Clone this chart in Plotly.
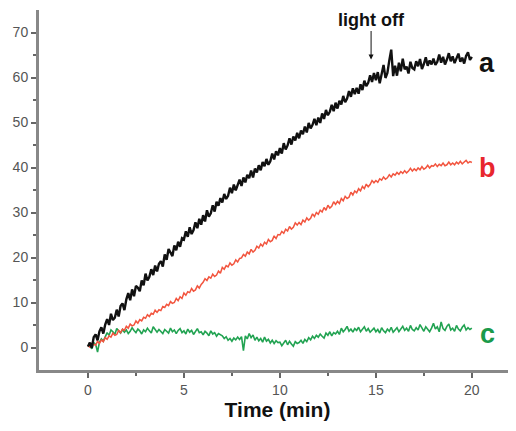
import plotly.graph_objects as go

# Sampling: t = 0, 0.1, ..., 20 min
t_start = 0.0
t_step = 0.1

series_a = [
    0.2, 1.1, -0.1, 2.3, 2.9, 1.6, 3.6, 4.5, 3.1, 5.1,
    6.3, 5.0, 7.5, 6.1, 6.6, 8.4, 6.9, 9.2, 9.8, 8.3,
    10.7, 12.1, 10.5, 12.9, 11.4, 13.7, 13.3, 12.5, 14.9, 13.8,
    16.4, 14.9, 15.7, 17.4, 16.1, 18.2, 16.9, 18.6, 19.2, 18.0,
    20.7, 19.5, 21.9, 21.0, 20.3, 22.7, 21.6, 23.5, 22.4, 24.3,
    24.0, 25.8, 24.6, 26.7, 25.2, 26.1, 27.8, 26.5, 28.6, 27.3,
    29.4, 28.0, 30.5, 29.1, 29.8, 31.6, 30.2, 32.4, 31.5, 33.2,
    32.2, 34.1, 33.0, 33.7, 35.5, 34.3, 36.2, 34.9, 36.0, 37.3,
    35.9, 37.8, 36.7, 38.4, 37.6, 39.3, 37.8, 39.8, 38.9, 40.5,
    39.4, 41.2, 40.3, 41.9, 40.6, 41.4, 43.1, 41.8, 43.6, 42.7,
    44.3, 43.1, 45.4, 44.0, 44.9, 46.5, 45.1, 46.9, 46.0, 47.7,
    46.5, 48.2, 47.4, 49.1, 47.8, 49.9, 48.7, 49.5, 50.8, 49.4,
    51.1, 49.9, 52.0, 50.8, 52.8, 51.6, 52.4, 53.9, 52.5, 54.4,
    53.1, 54.8, 54.0, 55.9, 54.5, 55.3, 57.0, 55.7, 57.6, 56.3,
    57.7, 56.4, 58.5, 57.2, 59.3, 58.1, 58.8, 60.5, 59.0, 61.0,
    59.4, 61.2, 58.7, 60.5, 62.8, 59.9, 61.0, 63.8, 66.2, 60.3,
    62.6, 60.4, 63.3, 61.4, 64.2, 61.8, 62.4, 60.9, 63.5, 62.1,
    61.8, 63.6, 62.5, 64.1, 61.9, 63.0, 64.5, 62.6, 63.8, 62.9,
    64.2, 62.8, 63.5, 65.1, 63.3, 64.6, 62.9, 64.0, 65.4, 63.6,
    64.7, 63.2, 64.1, 65.3, 63.5, 64.4, 63.1, 64.8, 65.6, 63.9,
    64.6,
]

series_b = [
    0.4, 0.1, 0.9, 0.6, 0.5, 1.4, 0.9, 1.7, 1.3, 2.2,
    1.8, 2.6, 2.3, 3.2, 2.7, 2.9, 3.8, 3.3, 4.1, 3.8,
    4.7, 4.3, 5.2, 4.8, 5.0, 5.9, 5.4, 6.2, 5.9, 6.7,
    6.5, 7.3, 6.9, 7.6, 7.4, 8.3, 7.8, 8.4, 8.2, 9.1,
    8.9, 9.6, 9.3, 10.2, 9.8, 10.0, 10.9, 10.4, 11.3, 10.9,
    12.1, 11.6, 12.4, 12.2, 13.1, 12.5, 12.8, 13.7, 13.2, 14.0,
    14.5, 15.3, 14.9, 15.7, 15.4, 16.3, 15.8, 16.1, 17.0, 16.5,
    17.8, 17.4, 18.2, 17.9, 18.8, 18.3, 18.6, 19.5, 19.0, 19.8,
    19.9, 20.7, 20.3, 21.2, 20.8, 21.8, 21.2, 21.6, 22.5, 22.1,
    23.0, 22.5, 23.4, 23.0, 24.0, 23.5, 23.8, 24.8, 24.2, 25.1,
    25.0, 25.8, 25.4, 26.3, 25.9, 26.9, 26.3, 26.7, 27.7, 27.2,
    27.8, 27.3, 28.3, 27.9, 28.8, 28.3, 28.7, 29.7, 29.1, 30.0,
    29.6, 30.5, 30.1, 31.1, 30.5, 31.6, 31.0, 31.4, 32.4, 31.8,
    32.5, 32.0, 33.1, 32.6, 33.6, 33.1, 33.4, 34.5, 33.9, 34.8,
    34.4, 35.3, 34.8, 35.8, 35.3, 36.3, 35.7, 36.2, 37.1, 36.6,
    37.1, 36.7, 37.5, 37.2, 37.9, 37.4, 37.7, 38.4, 37.9, 38.6,
    38.3, 38.9, 38.5, 39.1, 38.7, 39.3, 38.8, 39.2, 39.8, 39.2,
    39.7, 39.3, 39.9, 39.5, 40.2, 39.6, 39.9, 40.5, 39.9, 40.4,
    40.3, 40.8, 40.2, 40.7, 40.4, 41.0, 40.4, 40.6, 41.2, 40.6,
    41.0, 40.6, 41.2, 40.8, 41.4, 40.8, 41.1, 41.6, 41.0, 41.3,
    41.1,
]

series_c = [
    0.2, 0.6, -0.3, 1.1, 0.7, -1.0, 1.2, 1.9, 1.4, 2.5,
    3.3, 2.7, 3.9, 3.5, 2.9, 4.2, 3.7, 3.2, 4.0, 3.4,
    3.9, 3.1, 3.6, 4.4, 3.8, 3.3, 4.1, 3.7, 3.0, 3.9,
    3.5, 4.3, 3.7, 3.2, 4.6, 3.9, 3.4, 4.0, 3.6, 3.1,
    4.0, 3.7, 3.2, 4.3, 3.5, 3.9, 3.1, 3.8, 4.2, 3.3,
    3.7, 3.0, 4.1, 3.4, 3.8, 2.9, 3.6, 4.2, 3.3, 3.5,
    2.8, 3.6, 3.2, 2.6, 3.7, 3.0, 3.3, 2.5, 3.1, 2.8,
    2.6, 2.0, 2.4, 1.6, 2.0, 1.4, 2.1, 1.7, 2.3, 1.8,
    2.4, -0.7, 2.6, 1.9, 3.1, 2.2, 2.8, 1.6, 2.3, 1.5,
    2.0, 1.2, 2.3, 1.4, 1.8, 1.0, 1.6, 0.9, 1.5, 1.1,
    1.2, 0.4, 0.9, 1.6, 0.6, 1.4, 0.8, 0.3, 1.3, 0.9,
    1.1, 1.6, 0.9, 1.8, 1.3, 2.2, 1.7, 2.5, 2.0, 2.7,
    2.3, 3.0, 2.5, 2.1, 3.2, 2.7, 3.5, 2.6, 3.3, 3.0,
    3.6, 2.9, 4.3, 3.5, 4.0, 4.7, 3.6, 4.1, 3.4, 4.2,
    3.8, 4.5, 3.5, 4.1, 4.6, 3.6, 4.2, 3.4, 3.9, 4.3,
    3.5, 4.0, 3.2, 4.4, 3.7, 3.3, 4.1, 3.6, 4.5, 3.4,
    3.9, 4.4, 3.5, 4.1, 4.7, 3.8, 4.3, 3.6, 4.9, 4.0,
    3.7, 4.4, 3.9, 5.1, 4.2, 3.6, 4.6, 4.0, 3.5, 4.3,
    5.4, 4.1, 4.6, 3.5, 5.7, 4.2, 3.8, 4.7, 5.2, 3.9,
    4.3, 3.6, 4.9, 4.1, 3.7, 4.5, 5.0, 3.9, 4.4, 4.0,
    4.3,
]

x_ticks = [0, 5, 10, 15, 20]
x_minor = [2.5, 7.5, 12.5, 17.5]
y_ticks = [0, 10, 20, 30, 40, 50, 60, 70]
y_minor = [5, 15, 25, 35, 45, 55, 65]

labels = ["a", "b", "c"]
label_pos = [(20.8, 63.3), (20.8, 40.0), (20.8, 3.0)]
label_colors = ["#111111", "#e8262e", "#1a9a4a"]
light_off_t = 14.75
light_off_v = 64.0

FONT = "Liberation Sans, Arial, Helvetica"

fig = go.Figure()
fig.add_trace(go.Scatter(x0=t_start, dx=t_step, y=series_c, mode="lines",
                         line=dict(color="#22a352", width=1.6), showlegend=False))
fig.add_trace(go.Scatter(x0=t_start, dx=t_step, y=series_b, mode="lines",
                         line=dict(color="#f2553f", width=1.5), showlegend=False))
fig.add_trace(go.Scatter(x0=t_start, dx=t_step, y=series_a, mode="lines",
                         line=dict(color="#111111", width=2.4), showlegend=False))

for lab, (lx, ly), col in zip(labels, label_pos, label_colors):
    fig.add_annotation(x=lx, y=ly, text="<b>" + lab + "</b>", showarrow=False,
                       font=dict(family=FONT, size=27, color=col),
                       xanchor="center", yanchor="middle")

fig.add_annotation(x=light_off_t, y=light_off_v, text="<b>light off</b>",
                   showarrow=True, ax=0, ay=-40, arrowhead=2, arrowsize=1,
                   arrowwidth=1, arrowcolor="#111111",
                   font=dict(family=FONT, size=18, color="#111111"))

axis_font = dict(family=FONT, size=14, color="#555555")
fig.update_layout(
    width=508, height=423,
    margin=dict(l=31, r=0, t=2, b=61),
    paper_bgcolor="white", plot_bgcolor="white",
    xaxis=dict(range=[-2.55, 22.3], tickmode="array", tickvals=x_ticks,
               ticks="outside", ticklen=5, tickwidth=1.5, tickcolor="#666666",
               showline=True, linewidth=3, linecolor="#888888", automargin=False,
               showgrid=False, zeroline=False, tickfont=axis_font,
               minor=dict(tickmode="array", tickvals=x_minor, ticks="outside",
                          ticklen=3, tickwidth=1.5, tickcolor="#666666", showgrid=False),
               title=dict(text="<b>Time (min)</b>", standoff=6,
                          font=dict(family=FONT, size=21, color="#111111"))),
    yaxis=dict(range=[-5, 75], tickmode="array", tickvals=y_ticks,
               ticks="outside", ticklen=5, tickwidth=1.5, tickcolor="#666666",
               showline=True, linewidth=3, linecolor="#888888", automargin=False,
               showgrid=False, zeroline=False, tickfont=axis_font,
               minor=dict(tickmode="array", tickvals=y_minor, ticks="outside",
                          ticklen=3, tickwidth=1.5, tickcolor="#666666", showgrid=False)),
)

fig.write_html("out.html")
